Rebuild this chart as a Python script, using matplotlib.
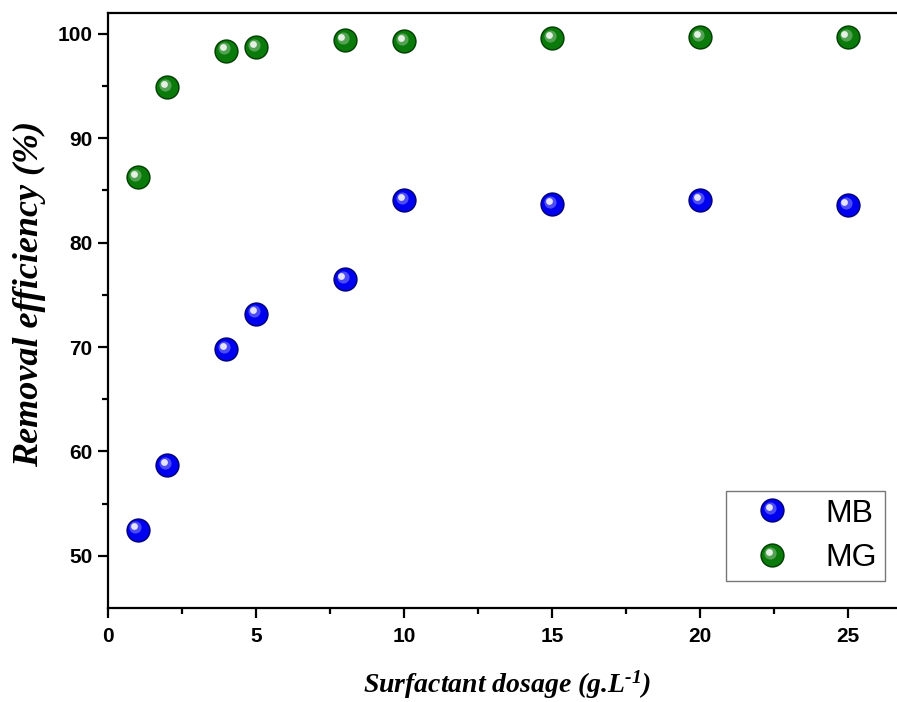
import matplotlib
matplotlib.use("Agg")
import matplotlib.pyplot as plt
import matplotlib.transforms as mtransforms
from matplotlib.lines import Line2D
from matplotlib.legend_handler import HandlerBase

plt.rcParams['mathtext.fontset'] = 'custom'
plt.rcParams['mathtext.it'] = 'Liberation Serif:italic:bold'
plt.rcParams['mathtext.rm'] = 'Liberation Serif:italic:bold'
plt.rcParams['mathtext.bf'] = 'Liberation Serif:italic:bold'
plt.rcParams['mathtext.default'] = 'it'

dosage = [1, 2, 4, 5, 8, 10, 15, 20, 25]
mb = [52.5, 58.7, 69.8, 73.2, 76.5, 84.1, 83.7, 84.1, 83.6]
mg = [86.3, 94.9, 98.4, 98.7, 99.4, 99.3, 99.6, 99.7, 99.7]
series = [("MB", mb, "#0000f0", "#00007a"), ("MG", mg, "#0a7a0a", "#034003")]

W, H = 897, 702
fig = plt.figure(figsize=(W/100, H/100), dpi=100)
ax = fig.add_axes([108/W, 1-608/H, (907-108)/W, (608-13)/H])

def sphere(ax, x, y, base, dark, ms=17.5):
    ax.plot(x, y, 'o', ms=ms, color=dark, mec='none', zorder=3, ls='none')
    ax.plot(x, y, 'o', ms=ms*0.88, color=base, mec='none', zorder=4, ls='none')
    for frac, col, alpha, dx in [(0.5, 'white', 0.3, -1.6), (0.28, 'white', 0.85, -2.4)]:
        tr = mtransforms.offset_copy(ax.transData, fig=fig, x=dx, y=-dx, units='points')
        ax.plot(x, y, 'o', ms=ms*frac, color=col, alpha=alpha, mec='none',
                zorder=5, ls='none', transform=tr)

for name, vals, base, dark in series:
    sphere(ax, dosage, vals, base, dark)

ax.set_xlim(0, 27)
ax.set_ylim(45, 102)
ax.set_xticks([0, 5, 10, 15, 20, 25])
ax.set_xticks([2.5, 7.5, 12.5, 17.5, 22.5], minor=True)
ax.set_yticks([50, 60, 70, 80, 90, 100])
ax.set_yticks([55, 65, 75, 85, 95], minor=True)
ax.spines['right'].set_visible(False)
for s in ax.spines.values():
    s.set_linewidth(1.6)
ax.tick_params(which='major', direction='out', length=7, width=1.6)
ax.tick_params(which='minor', direction='out', length=4, width=1.6)
ax.tick_params(axis='x', which='major', pad=7)
ax.tick_params(axis='y', which='major', pad=4)
for lab in ax.get_xticklabels() + ax.get_yticklabels():
    lab.set_fontfamily('Liberation Sans')
    lab.set_fontweight('bold')
    lab.set_fontsize(15)

fig.text(507/W, 1-685/H, r"Surfactant dosage (g.L$^{\text{-1}}$)", fontsize=20,
         fontfamily='Liberation Serif', fontweight='bold', fontstyle='italic',
         ha='center', va='center')
fig.text(30/W, 1-294/H, "Removal efficiency (%)", fontfamily='Liberation Serif',
         fontweight='bold', fontstyle='italic', fontsize=26, rotation=90,
         ha='center', va='center')

class SphereHandler(HandlerBase):
    def __init__(self, base, dark):
        super().__init__()
        self.base, self.dark = base, dark
    def create_artists(self, legend, orig, xd, yd, w, h, fs, trans):
        cx, cy = xd + w/2, yd + h/2
        arts = []
        for ms, col, a, off in [(17.5, self.dark, 1, 0), (15.4, self.base, 1, 0),
                                (8.75, 'white', 0.3, 1.6), (4.9, 'white', 0.85, 2.4)]:
            l = Line2D([cx - off], [cy + off], marker='o', ms=ms, color=col, alpha=a,
                       mec='none', ls='none')
            l.set_transform(trans)
            arts.append(l)
        return arts

handles = [Line2D([], [], label=n) for n, *_ in series]
hmap = {h: SphereHandler(b, d) for h, (n, v, b, d) in zip(handles, series)}
leg = ax.legend(handles=handles, handler_map=hmap, loc='lower right',
                bbox_to_anchor=(885/W, 1-581/H), bbox_transform=fig.transFigure,
                prop={'family': 'Liberation Sans', 'size': 23}, frameon=True,
                fancybox=False, edgecolor='#555555', handlelength=2.35,
                handletextpad=0.5, borderpad=0.25, labelspacing=0.45, borderaxespad=0)
leg.get_frame().set_linewidth(1.0)

fig.savefig("out.png", dpi=100)
